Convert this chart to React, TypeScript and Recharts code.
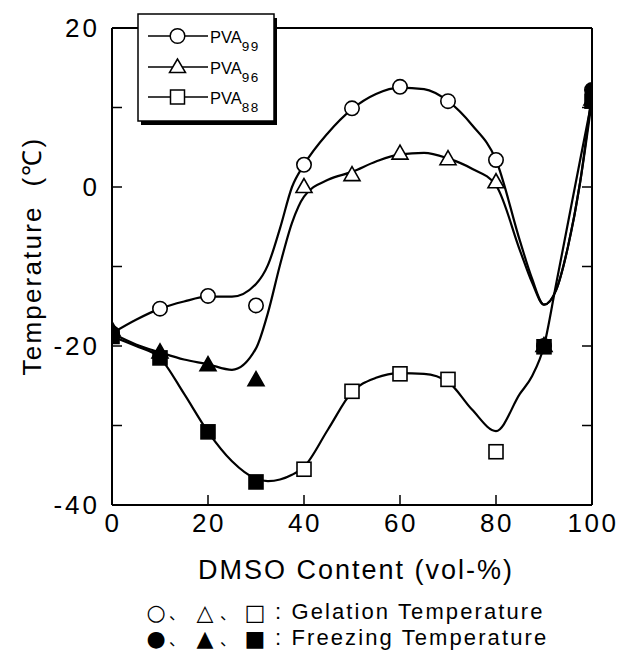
import React from 'react';
import { ComposedChart, Line, Scatter, XAxis, YAxis } from 'recharts';

const FONT = '"Liberation Sans", Arial, Helvetica, sans-serif';
const CJK = '"Noto Sans CJK JP", "DejaVu Sans", sans-serif';
const SHAPES = '"DejaVu Sans", "Noto Sans CJK JP", sans-serif';

// fitted curves
const curveX = [0, 5, 10, 15, 20, 25, 30, 32.5, 35, 37.5, 40, 45, 50, 55, 60, 65, 70, 75, 80, 85, 87.5, 90, 92.5, 95, 97.5, 100];
const curve99 = [-18.4, -16.7, -15.3, -14.4, -13.8, -13.8, -12.2, -9.8, -5.2, 0, 2.8, 6.8, 9.8, 11.7, 12.5, 12.3, 10.8, 7.8, 3.4, -6.8, -11.5, -14.8, -13, -7.5, 0.5, 12];
const curve96 = [-18.4, -19.8, -20.8, -21.7, -22.3, -23, -20.3, -15.8, -9.8, -4.5, -1.2, 0.9, 1.9, 3.2, 4.1, 4.3, 3.6, 2.3, 0.2, -8, -12, -14.8, -13, -7.5, 0.5, 11];
const curve88 = [-18.8, -20, -21.5, -26, -30.8, -34.5, -36.7, -37, -36.8, -36.2, -35.2, -30.5, -25.8, -24, -23.4, -23.5, -24.5, -28, -30.7, -26, -23.8, -20, -12.3, -4.5, 3.3, 11];

// gelation temperature (open markers)
const gel99X = [10, 20, 30, 40, 50, 60, 70, 80];
const gel99Y = [-15.3, -13.7, -14.9, 2.8, 9.9, 12.6, 10.8, 3.4];
const gel96X = [40, 50, 60, 70, 80];
const gel96Y = [0, 1.5, 4.2, 3.5, 0.6];
const gel88X = [40, 50, 60, 70, 80];
const gel88Y = [-35.5, -25.7, -23.5, -24.2, -33.3];

// freezing temperature (filled markers)
const frz99X = [0, 90, 100];
const frz99Y = [-18.4, -20, 12.2];
const frz96X = [0, 10, 20, 30, 90, 100];
const frz96Y = [-18, -20.8, -22.4, -24.3, -20, 11];
const frz88X = [0, 10, 20, 30, 90, 100];
const frz88Y = [-18.8, -21.5, -30.8, -37.1, -20.1, 10.8];

const xTicks = [0, 20, 40, 60, 80, 100];
const yTicks = [-40, -30, -20, -10, 0, 10, 20];
const yLabels = [-40, -20, 0, 20];

const gelSymbols = ['○', '△', '□'];
const frzSymbols = ['●', '▲', '■'];
const symbolX = [156, 205, 255];
const commaX = [177, 228];

const zip = (xs: number[], ys: number[]) => xs.map((x, i) => ({ x, y: ys[i] }));

const makeShape = (kind: string, filled: boolean) => (props: any) => {
  const { cx, cy } = props;
  if (cx == null || cy == null) return <g />;
  const fill = filled ? '#000' : '#fff';
  if (kind === 'circle') return <circle cx={cx} cy={cy} r={7.2} fill={fill} stroke="#000" strokeWidth={1.6} />;
  if (kind === 'triangle')
    return <polygon points={`${cx},${cy - 8.5} ${cx - 8},${cy + 5.5} ${cx + 8},${cy + 5.5}`} fill={fill} stroke="#000" strokeWidth={1.6} />;
  return <rect x={cx - 7} y={cy - 7} width={14} height={14} fill={fill} stroke="#000" strokeWidth={1.6} />;
};

const BottomTick = ({ x, y, payload }: any) => (
  <g>
    <line x1={x} y1={y} x2={x} y2={y - 10} stroke="#000" strokeWidth={1.5} />
    <text x={x + 1} y={y + 27} textAnchor="middle" fontSize={26} letterSpacing={2.5} fontFamily={FONT} fill="#000">
      {payload.value}
    </text>
  </g>
);

const TopTick = ({ x, y, payload }: any) =>
  payload.value === 0 || payload.value === 100 ? <g /> : <line x1={x} y1={y} x2={x} y2={y + 10} stroke="#000" strokeWidth={1.5} />;

const LeftTick = ({ x, y, payload }: any) => (
  <g>
    <line x1={x} y1={y} x2={x + 10} y2={y} stroke="#000" strokeWidth={1.5} />
    {yLabels.includes(payload.value) && (
      <text x={x - 12} y={y + 9} textAnchor="end" fontSize={26} letterSpacing={3} fontFamily={FONT} fill="#000">
        {payload.value}
      </text>
    )}
  </g>
);

const RightTick = ({ x, y, payload }: any) =>
  payload.value === -40 || payload.value === 20 ? <g /> : <line x1={x} y1={y} x2={x - 10} y2={y} stroke="#000" strokeWidth={1.5} />;

const legendRows = [
  { name: '99', kind: 'circle', y: 36 },
  { name: '96', kind: 'triangle', y: 67 },
  { name: '88', kind: 'square', y: 97 },
];

function LegendMarker({ kind, cx, cy }: any) {
  if (kind === 'circle') return <circle cx={cx} cy={cy} r={7.3} fill="#fff" stroke="#000" strokeWidth={1.5} />;
  if (kind === 'triangle')
    return <polygon points={`${cx},${cy - 8} ${cx - 8},${cy + 5.5} ${cx + 8},${cy + 5.5}`} fill="#fff" stroke="#000" strokeWidth={1.5} />;
  return <rect x={cx - 7} y={cy - 7} width={14} height={14} fill="#fff" stroke="#000" strokeWidth={1.5} />;
}

function NoteLine({ symbols, label, y }: { symbols: string[]; label: string; y: number }) {
  return (
    <g>
      {symbols.map((s, i) => (
        <text key={'s' + i} x={symbolX[i]} y={y + 1} textAnchor="middle" fontSize={22} fontFamily={SHAPES} fill="#000">
          {s}
        </text>
      ))}
      {commaX.map((cx, i) => (
        <text key={'c' + i} x={cx} y={y} textAnchor="middle" fontSize={16} fontFamily={CJK} fill="#000">
          、
        </text>
      ))}
      <text x={275} y={y} fontSize={22} letterSpacing={2.1} fontFamily={FONT} fill="#000">
        {label}
      </text>
    </g>
  );
}

export default function App() {
  return (
    <div style={{ position: 'absolute', left: 0, top: 0, width: 621, height: 652, background: '#fff' }}>
      <ComposedChart width={621} height={652} margin={{ top: 27, right: 28, bottom: 107, left: 42 }}>
        <XAxis
          type="number"
          dataKey="x"
          domain={[0, 100]}
          ticks={xTicks}
          height={40}
          tickSize={0}
          tickMargin={0}
          tickLine={false}
          tick={<BottomTick />}
          axisLine={{ stroke: '#000', strokeWidth: 2 }}
          allowDataOverflow
        />
        <XAxis
          xAxisId="top"
          orientation="top"
          type="number"
          domain={[0, 100]}
          ticks={xTicks}
          height={1}
          tickSize={0}
          tickMargin={0}
          tickLine={false}
          tick={<TopTick />}
          axisLine={{ stroke: '#000', strokeWidth: 2 }}
          allowDataOverflow
        />
        <YAxis
          type="number"
          dataKey="y"
          domain={[-40, 20]}
          ticks={yTicks}
          width={70}
          tickSize={0}
          tickMargin={0}
          tickLine={false}
          tick={<LeftTick />}
          axisLine={{ stroke: '#000', strokeWidth: 2 }}
          allowDataOverflow
        />
        <YAxis
          yAxisId="right"
          orientation="right"
          type="number"
          domain={[-40, 20]}
          ticks={yTicks}
          width={1}
          tickSize={0}
          tickMargin={0}
          tickLine={false}
          tick={<RightTick />}
          axisLine={{ stroke: '#000', strokeWidth: 2 }}
          allowDataOverflow
        />
        <Line data={zip(curveX, curve99)} dataKey="y" type="monotone" stroke="#000" strokeWidth={2.2} dot={false} isAnimationActive={false} />
        <Line data={zip(curveX, curve96)} dataKey="y" type="monotone" stroke="#000" strokeWidth={2.2} dot={false} isAnimationActive={false} />
        <Line data={zip(curveX, curve88)} dataKey="y" type="monotone" stroke="#000" strokeWidth={2.2} dot={false} isAnimationActive={false} />
        <Scatter data={zip(gel99X, gel99Y)} dataKey="y" shape={makeShape('circle', false)} isAnimationActive={false} />
        <Scatter data={zip(gel96X, gel96Y)} dataKey="y" shape={makeShape('triangle', false)} isAnimationActive={false} />
        <Scatter data={zip(gel88X, gel88Y)} dataKey="y" shape={makeShape('square', false)} isAnimationActive={false} />
        <Scatter data={zip(frz88X, frz88Y)} dataKey="y" shape={makeShape('square', true)} isAnimationActive={false} />
        <Scatter data={zip(frz96X, frz96Y)} dataKey="y" shape={makeShape('triangle', true)} isAnimationActive={false} />
        <Scatter data={zip(frz99X, frz99Y)} dataKey="y" shape={makeShape('circle', true)} isAnimationActive={false} />
      </ComposedChart>
      <svg width={621} height={652} style={{ position: 'absolute', left: 0, top: 0, pointerEvents: 'none' }}>
        {/* legend box with drop shadow */}
        <rect x={141} y={18} width={136} height={107} fill="#000" />
        <rect x={138} y={14} width={136} height={107} fill="#fff" stroke="#000" strokeWidth={1.5} />
        {legendRows.map((r) => (
          <g key={r.name}>
            <line x1={148} y1={r.y} x2={208} y2={r.y} stroke="#000" strokeWidth={1.5} />
            <LegendMarker kind={r.kind} cx={177.5} cy={r.y} />
            <text x={210} y={r.y + 7} fontSize={16.5} fontFamily={FONT} fill="#000">
              PVA
              <tspan fontSize={13.5} dy={7.5} letterSpacing={1.5}>{r.name}</tspan>
            </text>
          </g>
        ))}
        <text transform="translate(41,256) rotate(-90)" textAnchor="middle" fontSize={26} letterSpacing={2.2} fontFamily={FONT} fill="#000">
          Temperature{'\u00A0\u00A0'}(℃)
        </text>
        <text x={356} y={579} textAnchor="middle" fontSize={27} letterSpacing={2} fontFamily={FONT} fill="#000">
          DMSO Content (vol-%)
        </text>
        <NoteLine symbols={gelSymbols} label=": Gelation Temperature" y={619} />
        <NoteLine symbols={frzSymbols} label=": Freezing Temperature" y={645} />
      </svg>
    </div>
  );
}
